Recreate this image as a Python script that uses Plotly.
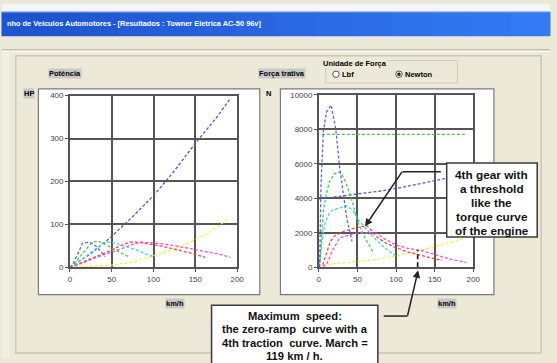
import plotly.graph_objects as go

W, H = 557, 363

# ---------------- data: Potência (HP) vs km/h ----------------
pot_g1_x = [0, 3, 6, 10, 15, 21, 27, 32, 36, 42]
pot_g1_y = [0, 6, 18, 33, 56, 58, 56, 48, 39, 25]
pot_g2_x = [0, 5, 10, 15, 20, 25, 30, 35, 40, 50, 60, 70]
pot_g2_y = [0, 8, 20, 32, 45, 55, 60, 60, 56, 45, 35, 25]
pot_g3_x = [0, 5, 10, 20, 30, 40, 46, 55, 65, 80, 90, 102]
pot_g3_y = [0, 5, 12, 28, 42, 55, 59, 56, 50, 40, 32, 23]
pot_g4_x = [0, 10, 20, 30, 40, 50, 60, 72, 85, 100, 115, 130, 145, 162]
pot_g4_y = [0, 8, 17, 25, 32, 40, 50, 59, 58, 53, 47, 40, 33, 23]
pot_g5_x = [0, 10, 20, 30, 45, 60, 75, 85, 100, 120, 140, 160, 180, 192]
pot_g5_y = [0, 6, 14, 22, 32, 42, 54, 58, 57, 52, 45, 38, 30, 23]
pot_roll_x = [0, 25, 50, 75, 100, 120, 140, 166, 190]
pot_roll_y = [0, 2, 5, 12, 27, 39, 55, 80, 114]
pot_ramp_x = [0, 25, 50, 75, 100, 125, 150, 175, 191]
pot_ramp_y = [0, 32, 72, 118, 167, 225, 289, 348, 391]

# ---------------- data: Força trativa (N) vs km/h ----------------
f_g1_x = [1, 3, 6, 10, 16, 22, 27, 32, 36, 43]
f_g1_y = [0, 5000, 7900, 9000, 9400, 8000, 5800, 4200, 2900, 1500]
f_lim_x = [4, 190]
f_lim_y = [7700, 7700]
f_g2_x = [1, 3, 6, 10, 14, 20, 25, 30, 36, 44, 51, 60, 70]
f_g2_y = [0, 1500, 3300, 4300, 5000, 5400, 5540, 5400, 4800, 3700, 2550, 1700, 900]
f_g3_x = [1, 4, 8, 14, 20, 28, 36, 44, 52, 62, 74, 86, 100]
f_g3_y = [150, 1500, 2540, 3200, 3350, 3450, 3560, 3300, 2700, 2200, 1600, 1100, 650]
f_g4_x = [5, 10, 15, 20, 32, 45, 57, 62, 68, 74, 85, 100, 115, 129, 145, 160]
f_g4_y = [150, 900, 1500, 1800, 2090, 2250, 2400, 2420, 2150, 1800, 1450, 1130, 900, 730, 550, 400]
f_g5_x = [5, 10, 18, 27, 38, 48, 60, 74, 85, 100, 115, 134, 150, 163, 178, 191]
f_g5_y = [50, 150, 1000, 1700, 1850, 1980, 2000, 1980, 1650, 1300, 1100, 960, 750, 560, 400, 280]
f_ramp_x = [0, 25, 52, 80, 108, 135, 163, 190]
f_ramp_y = [3960, 4100, 4240, 4420, 4630, 4870, 5140, 5450]
f_roll_x = [5, 40, 74, 100, 129, 160, 189]
f_roll_y = [150, 280, 450, 650, 960, 1300, 1690]
vmax_x = [128, 128]
vmax_y = [0, 1000]

x_ticks = [0, 50, 100, 150, 200]
hp_ticks = [0, 100, 200, 300, 400]
n_ticks = [0, 2000, 4000, 6000, 8000, 10000]
n_tick_text = ["0", "2000", "4000", "6000", "8000", "10000"]

C_BLUE = "#6464d2"
C_GREEN = "#4ccc4c"
C_CYAN = "#3cd8e0"
C_RED = "#f04848"
C_MAG = "#ee4cee"
C_YEL = "#f0f050"
C_RAMP = "#5858c0"
C_LIM = "#58c058"

DASH = "3px,2px"

fig = go.Figure()

def add(x, y, color, xa, ya, dash=DASH, width=1.3):
    fig.add_trace(go.Scatter(x=x, y=y, mode="lines", xaxis=xa, yaxis=ya,
                             line=dict(color=color, width=width, dash=dash),
                             hoverinfo="skip", showlegend=False))

# left chart
add(pot_ramp_x, pot_ramp_y, C_RAMP, "x", "y")
add(pot_roll_x, pot_roll_y, C_YEL, "x", "y")
add(pot_g5_x, pot_g5_y, C_MAG, "x", "y")
add(pot_g4_x, pot_g4_y, C_RED, "x", "y")
add(pot_g3_x, pot_g3_y, C_CYAN, "x", "y")
add(pot_g2_x, pot_g2_y, C_GREEN, "x", "y")
add(pot_g1_x, pot_g1_y, C_BLUE, "x", "y")

# right chart
add(f_lim_x, f_lim_y, C_LIM, "x2", "y2")
add(f_ramp_x, f_ramp_y, C_RAMP, "x2", "y2")
add(f_roll_x, f_roll_y, C_YEL, "x2", "y2")
add(f_g5_x, f_g5_y, C_MAG, "x2", "y2")
add(f_g4_x, f_g4_y, C_RED, "x2", "y2")
add(f_g3_x, f_g3_y, C_CYAN, "x2", "y2")
add(f_g2_x, f_g2_y, C_GREEN, "x2", "y2")
add(f_g1_x, f_g1_y, C_BLUE, "x2", "y2")
add(vmax_x, vmax_y, "#111111", "x2", "y2", dash="5px,3px", width=1.6)


def px(v):
    return v / W


def py(v):
    return 1 - v / H


FONT = "Liberation Sans, Arial, sans-serif"
GRID = "#555555"

axis_common = dict(showgrid=True, gridcolor=GRID, gridwidth=1.5, zeroline=False,
                   showline=True, mirror=True, linecolor=GRID, linewidth=1.5,
                   ticks="outside", ticklen=3, tickcolor=GRID, tickwidth=1,
                   tickfont=dict(family=FONT, size=8, color="#444444"),
                   fixedrange=True)

fig.update_layout(
    width=W, height=H, margin=dict(l=0, r=0, t=0, b=0),
    paper_bgcolor="#ECE9D8", plot_bgcolor="white",
    xaxis=dict(domain=[px(69), px(239)], range=[0, 200], tickvals=x_ticks,
               anchor="y", **axis_common),
    yaxis=dict(domain=[py(270), py(94)], range=[0, 400], tickvals=hp_ticks,
               anchor="x", **axis_common),
    xaxis2=dict(domain=[px(322), px(479)], range=[0, 200], tickvals=x_ticks,
                anchor="y2", **axis_common),
    yaxis2=dict(domain=[py(270), py(93)], range=[0, 10000], tickvals=n_ticks,
                ticktext=n_tick_text, anchor="x2", **axis_common),
)

shapes = []


def rect(x0, y0, x1, y1, fill=None, line=None, lw=1, layer="below"):
    shapes.append(dict(type="rect", xref="paper", yref="paper",
                       x0=px(x0), x1=px(x1), y0=py(y1), y1=py(y0),
                       fillcolor=fill if fill else "rgba(0,0,0,0)",
                       line=dict(color=line if line else "rgba(0,0,0,0)", width=lw if line else 0),
                       layer=layer))


def circle(cx, cy, r, fill, line, lw=1):
    shapes.append(dict(type="circle", xref="paper", yref="paper",
                       x0=px(cx - r), x1=px(cx + r), y0=py(cy + r), y1=py(cy - r),
                       fillcolor=fill, line=dict(color=line, width=lw), layer="below"))


def hline(x0, x1, y, color, lw=1, layer="below"):
    shapes.append(dict(type="line", xref="paper", yref="paper",
                       x0=px(x0), x1=px(x1), y0=py(y), y1=py(y),
                       line=dict(color=color, width=lw), layer=layer))


# window top strip + title bar with gradient
rect(0, 0, W, 8, fill="#f4f6fb")
n = 14
c0 = (30, 84, 206)
c1 = (52, 122, 244)
for i in range(n):
    t = i / (n - 1)
    c = tuple(int(c0[k] + (c1[k] - c0[k]) * t) for k in range(3))
    rect(W * i / n - 0.5, 8, W * (i + 1) / n + 0.5, 33, fill="rgb(%d,%d,%d)" % c)
hline(0, W, 8.5, "#5a8ff0", 1)
# toolbar separator
hline(0, W, 47, "#aca899", 1)
hline(0, W, 48.5, "#ffffff", 1)
# left edge strip
rect(0, 49, 8, H, fill="#f1efe4")
# panel frame
rect(14, 53, 548, 358, line="#c9c6b5", lw=1.5)
# white chart boxes
rect(37, 87, 262, 298, fill="white", line="#7a7a7a", lw=1.2)
rect(283, 87, 500, 298, fill="white", line="#7a7a7a", lw=1.2)
# group box
rect(329, 58, 463, 81, line="#cfcbba", lw=1)
# radio buttons
circle(339.5, 72, 3.3, "white", "#555555", 1)
circle(403.5, 72, 3.3, "white", "#555555", 1)
circle(403.5, 72, 1.6, "#222222", "#222222", 0.5)
# callout boxes
rect(452, 163, 544, 239, fill="white", line="#3a3a3a", lw=1.5, layer="above")
rect(213, 309, 382, 380, fill="white", line="#3a3a3a", lw=1.5, layer="above")
# arrow horizontal legs
hline(407, 446, 172, "#222222", 1.5, layer="above")
hline(388, 412, 320, "#222222", 1.5, layer="above")

fig.update_layout(shapes=shapes)

ann = []


def text(x, y, s, size=7.5, color="#000000", bg=None, bold=True, xanchor="center"):
    ann.append(dict(xref="paper", yref="paper", x=px(x), y=py(y), text=("<b>%s</b>" % s) if bold else s,
                    showarrow=False, xanchor=xanchor, yanchor="middle",
                    font=dict(family=FONT, size=size, color=color),
                    bgcolor=bg if bg else "rgba(0,0,0,0)", borderpad=0))


text(4, 20, "nho de Veículos Automotores - [Resultados : Towner Eletrica AC-50 96v]", size=7.4,
     color="#ffffff", xanchor="left")
text(64, 71, "Potência", bg="#c8c8c8")
text(27, 92, "HP", bg="#c8c8c8")
text(285, 71, "Força trativa", bg="#c8c8c8")
text(271, 92, "N")
text(176, 307, "km/h", bg="#c8c8c8")
text(452, 307, "km/h", bg="#c8c8c8")
text(359, 61, "Unidade de Força", bg="#ECE9D8")
text(344.5, 72, "Lbf", xanchor="left")
text(409, 72, "Newton", xanchor="left")

for i, s in enumerate(["4th gear with", "a threshold", "like the", "torque curve", "of the engine"]):
    text(498, 175 + i * 14.5, s, size=11.8, color="#111111")
for i, s in enumerate(["Maximum  speed:", "the zero-ramp  curve with a", "4th traction  curve. March =",
                       "119 km / h."]):
    text(297.5, 320 + i * 13.6, s, size=11.2, color="#111111")

# arrow heads (tip at x,y ; tail offset in pixels)
ann.append(dict(xref="paper", yref="paper", x=px(369), y=py(228), text="", showarrow=True,
                ax=38, ay=-56, arrowhead=2, arrowsize=1, arrowwidth=1.5, arrowcolor="#222222",
                standoff=0))
ann.append(dict(xref="paper", yref="paper", x=px(423), y=py(273), text="", showarrow=True,
                ax=-11, ay=47, arrowhead=2, arrowsize=1, arrowwidth=1.5, arrowcolor="#222222",
                standoff=0))

fig.update_layout(annotations=ann)

fig.write_html("out.html")
